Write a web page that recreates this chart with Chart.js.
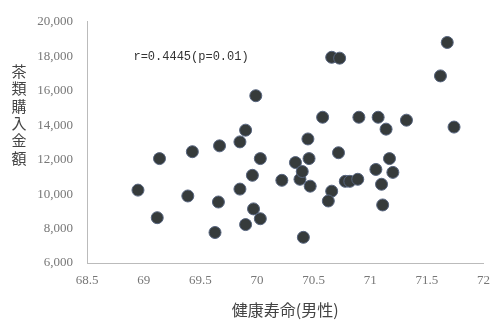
<!DOCTYPE html>
<html>
<head>
<meta charset="utf-8">
<script src="https://cdn.jsdelivr.net/npm/chart.js@4.4.1/dist/chart.umd.min.js"></script>
<style>
  html, body { margin: 0; padding: 0; background: #fff; }
  #wrap { width: 500px; height: 325px; position: relative; }
</style>
</head>
<body>
<div id="wrap"><canvas id="c" width="500" height="325"></canvas></div>
<script>
// Healthy life expectancy (male, years) per prefecture
const lifeExpectancy = [
  68.95, 69.12, 69.14, 69.39, 69.43, 69.63, 69.66, 69.67, 69.85, 69.90,
  69.85, 69.90, 69.96, 69.97, 70.03, 69.99, 70.03, 70.22, 70.34, 70.38,
  70.40, 70.45, 70.46, 70.47, 70.41, 70.58, 70.66, 70.73, 70.72, 70.66,
  70.63, 70.78, 70.82, 70.89, 70.90, 71.07, 71.14, 71.32, 71.05, 71.20,
  71.10, 71.11, 71.17, 71.62, 71.68, 71.74
];
// Annual tea purchase amount (yen) for the same prefectures
const teaSpending = [
  10230, 8630, 12060, 9890, 12460, 7770, 9540, 12800, 13030, 13710,
  10290, 8230, 11090, 9140, 8570, 15710, 12060, 10800, 11830, 10860,
  11310, 13200, 12060, 10460, 7490, 14460, 17940, 17890, 12400, 10170,
  9600, 10740, 10740, 10860, 14460, 14460, 13770, 14290, 11430, 11260,
  10570, 9370, 12060, 16860, 18800, 13890
];
const xTickValues = [68.5, 69, 69.5, 70, 70.5, 71, 71.5, 72];
const yTickValues = [6000, 8000, 10000, 12000, 14000, 16000, 18000, 20000];
const xAxisTitle = '健康寿命(男性)';
const yAxisTitle = ['茶', '類', '購', '入', '金', '額'];
const correlationNote = 'r=0.4445(p=0.01)';
const notePosition = { x: 68.91, y: 17950 };

const points = lifeExpectancy.map((v, i) => ({ x: v, y: teaSpending[i] }));

// Upright, top-to-bottom y-axis title and the correlation note
const textPlugin = {
  id: 'textPlugin',
  afterDraw(chart) {
    const ctx = chart.ctx;
    const xs = chart.scales.x, ys = chart.scales.y;
    ctx.save();
    ctx.fillStyle = '#444';
    ctx.font = '15px "Noto Sans CJK JP"';
    ctx.textAlign = 'center';
    ctx.textBaseline = 'middle';
    yAxisTitle.forEach((ch, i) => {
      ctx.fillText(ch, 19, 71 + i * 17.4);
    });
    ctx.fillStyle = '#333';
    ctx.font = '12px "Liberation Mono"';
    ctx.textAlign = 'left';
    ctx.fillText(correlationNote, xs.getPixelForValue(notePosition.x), ys.getPixelForValue(notePosition.y));
    ctx.restore();
  }
};

const tickFont = { family: '"Liberation Serif"', size: 13 };

new Chart(document.getElementById('c'), {
  type: 'scatter',
  data: {
    datasets: [{
      data: points,
      backgroundColor: '#363b3b',
      borderColor: '#56647e',
      borderWidth: 1,
      pointRadius: 6,
      pointHoverRadius: 6
    }]
  },
  options: {
    responsive: false,
    animation: false,
    events: [],
    layout: { padding: { top: 17, right: 7, bottom: 0, left: 0 } },
    plugins: { legend: { display: false }, tooltip: { enabled: false } },
    scales: {
      x: {
        type: 'linear',
        min: 68.5,
        max: 72,
        afterBuildTicks: s => { s.ticks = xTickValues.map(v => ({ value: v })); },
        afterFit: s => { s.height = 62; },
        grid: { display: false, drawTicks: false },
        border: { display: true, color: '#bbbbbb', dash: [1, 2], width: 1 },
        ticks: {
          color: '#777',
          font: tickFont,
          padding: 10,
          maxRotation: 0,
          callback: v => String(v)
        },
        title: {
          display: true,
          text: xAxisTitle,
          color: '#444',
          font: { family: '"Noto Sans CJK JP"', size: 16 },
          padding: { top: 0, bottom: 5 }
        }
      },
      y: {
        type: 'linear',
        min: 6000,
        max: 20000,
        afterBuildTicks: s => { s.ticks = yTickValues.map(v => ({ value: v })); },
        afterFit: s => { s.width = 87; },
        grid: { display: false, drawTicks: false },
        border: { display: true, color: '#bbbbbb', dash: [1, 2], width: 1 },
        ticks: {
          color: '#777',
          font: tickFont,
          padding: 14,
          callback: v => v.toLocaleString('en-US')
        }
      }
    }
  },
  plugins: [textPlugin]
});
</script>
</body>
</html>
